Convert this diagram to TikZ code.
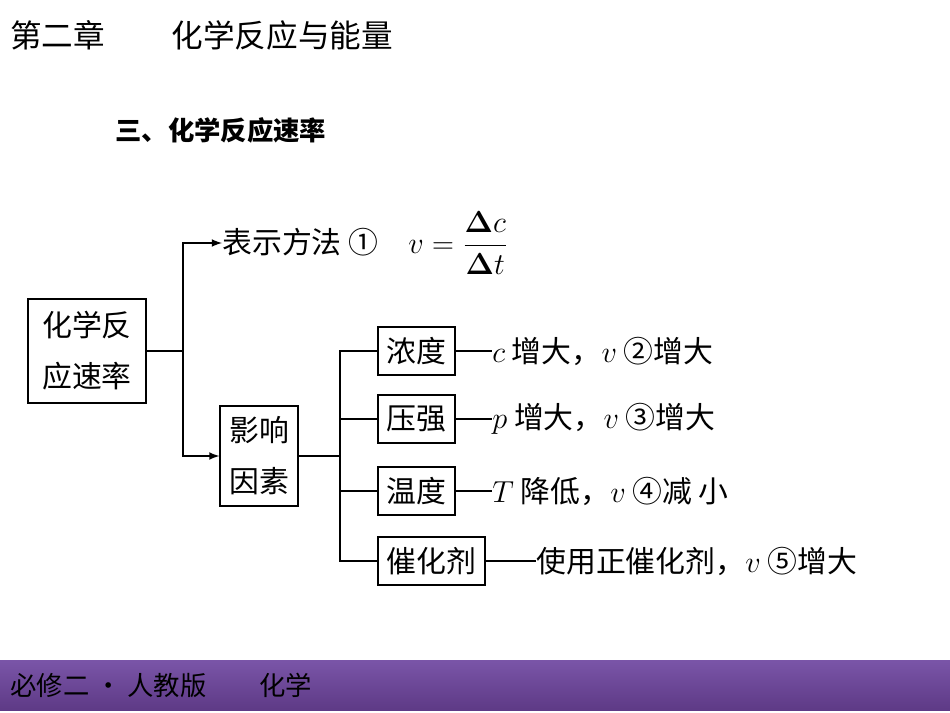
\documentclass[tikz,border=0pt]{standalone}
\usepackage{amsmath}
\usepackage{fontspec}
\setmainfont{Noto Sans CJK SC}
\newfontfamily\cjk{Noto Sans CJK SC}
\usetikzlibrary{positioning}
\definecolor{bartop}{HTML}{7A55A8}
\definecolor{barbot}{HTML}{5E3A86}
\tikzset{
  box/.style={draw,line width=1pt,inner xsep=5pt,inner ysep=6pt,align=center,font=\fontsize{17}{29}\selectfont},
  lbl/.style={anchor=west,inner sep=0pt,font=\fontsize{17}{20}\selectfont},
  link/.style={line width=1pt},
  arr/.style={link,-latex}
}
\begin{document}
\begin{tikzpicture}[x=0.02cm,y=-0.02cm]
\useasboundingbox (0,0) rectangle (950,713);
% header
\node[anchor=west,inner sep=0pt,font=\fontsize{18}{20}\selectfont] (title) at (10,35) {第二章\hspace{2.1em}化学反应与能量};
\node[anchor=west,inner sep=0pt,font=\bfseries\fontsize{15}{17}\selectfont] (sec) at (115,130) {三、化学反应速率};
% tree
\node[box,inner xsep=8pt,inner ysep=7pt] (root) at (87,351) {化学反\\应速率};
\coordinate (fork) at (183,351);
\node[lbl] (repr) at (222,243) {表示方法 ①\hspace{1em}$v=\dfrac{\boldsymbol{\Delta} c}{\boldsymbol{\Delta} t}$};
\node[box] (infl) at (259,456) {影响\\因素};
\coordinate (fork2) at (340,456);
\node[box,anchor=west] (conc) at (377,351) {浓度};
\node[box,anchor=west] (pres) at (377,419) {压强};
\node[box,anchor=west] (temp) at (377,491) {温度};
\node[box,anchor=west] (cata) at (377,561) {催化剂};
\node[lbl] (tconc) at ([xshift=0.72cm]conc.east) {$c$ 增大，$v$ ②增大};
\node[lbl] (tpres) at ([xshift=0.72cm]pres.east) {$p$ 增大，$v$ ③增大};
\node[lbl] (ttemp) at ([xshift=0.72cm]temp.east) {$T$ 降低，$v$ ④减 小};
\node[lbl] (tcata) at ([xshift=1cm]cata.east) {使用正催化剂，$v$ ⑤增大};
\draw[link] (root.east) -- (fork);
\draw[arr] (fork) |- (repr.west);
\draw[arr] (fork) |- (infl.west);
\draw[link] (infl.east) -- (fork2);
\foreach \n in {conc,pres,temp,cata}
  \draw[link] (fork2) |- (\n.west);
\foreach \n/\t in {conc/tconc,pres/tpres,temp/ttemp,cata/tcata}
  \draw[link] (\n.east) -- (\t.west);
% footer
\shade[top color=bartop,bottom color=barbot] (0,660) rectangle (950,710);
\node[anchor=west,inner sep=0pt,font=\fontsize{15}{17}\selectfont] (foot) at (10,685) {必修二 · 人教版\hspace{2em}化学};
\end{tikzpicture}
\end{document}
